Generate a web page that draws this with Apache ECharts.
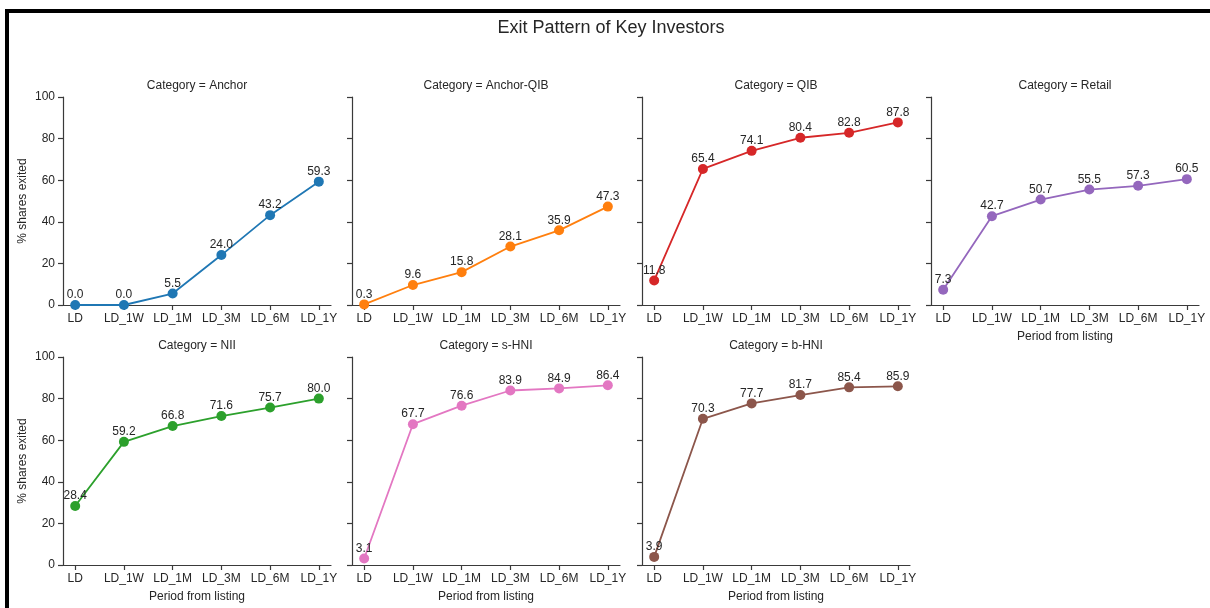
<!DOCTYPE html>
<html>
<head>
<meta charset="utf-8">
<title>Exit Pattern of Key Investors</title>
<script src="https://cdn.jsdelivr.net/npm/echarts@6/dist/echarts.min.js"></script>
<style>
  html, body { margin: 0; padding: 0; background: #ffffff; overflow: hidden; }
  #frame {
    position: absolute; left: 5px; top: 9px; width: 1400px; height: 800px;
    border: 4px solid #000; box-sizing: border-box; pointer-events: none;
  }
  #chart { position: absolute; left: 0; top: 0; width: 1210px; height: 608px; }
</style>
</head>
<body>
<div id="frame"></div>
<div id="chart"></div>
<script>
// Period labels on the x axis
const periods = ['LD', 'LD_1W', 'LD_1M', 'LD_3M', 'LD_6M', 'LD_1Y'];

// Investor categories, one panel each
const categories = ['Anchor', 'Anchor-QIB', 'QIB', 'Retail', 'NII', 's-HNI', 'b-HNI'];

// % of shares exited per period
const anchor    = [0.0, 0.0, 5.5, 24.0, 43.2, 59.3];
const anchorQib = [0.3, 9.6, 15.8, 28.1, 35.9, 47.3];
const qib       = [11.8, 65.4, 74.1, 80.4, 82.8, 87.8];
const retail    = [7.3, 42.7, 50.7, 55.5, 57.3, 60.5];
const nii       = [28.4, 59.2, 66.8, 71.6, 75.7, 80.0];
const sHni      = [3.1, 67.7, 76.6, 83.9, 84.9, 86.4];
const bHni      = [3.9, 70.3, 77.7, 81.7, 85.4, 85.9];

// y axis ticks
const yTicks = [0, 20, 40, 60, 80, 100];

const values = [anchor, anchorQib, qib, retail, nii, sHni, bHni];
const colors = ['#1f77b4', '#ff7f0e', '#d62728', '#9467bd', '#2ca02c', '#e377c2', '#8c564b'];

const FONT = "'Liberation Sans', Arial, sans-serif";
const INK = '#262626';
const AXIS = '#3a3a3a';

// panel geometry
const colLeft = [63, 352, 642, 931];
const rowTop = [97, 357];
const panelW = 268;
const panelH = 208;

const grids = [], xAxes = [], yAxes = [], series = [];
const titles = [{
  text: 'Exit Pattern of Key Investors',
  left: 611, top: 19, textAlign: 'center', padding: 0,
  textStyle: { fontFamily: FONT, fontSize: 18, fontWeight: 'normal', color: INK }
}];

const tickIdx = periods.map((_, i) => i);

categories.forEach((cat, k) => {
  const row = Math.floor(k / 4), col = k % 4;
  const left = colLeft[col], top = rowTop[row];
  grids.push({ left: left, top: top, width: panelW, height: panelH, containLabel: false });

  titles.push({
    text: 'Category = ' + cat,
    left: left + panelW / 2, top: top - 17, textAlign: 'center', padding: 0,
    textStyle: { fontFamily: FONT, fontSize: 12, fontWeight: 'normal', color: INK }
  });

  // bottom panels of each column carry the x axis title
  const showXName = row === 1 || k === 3;
  xAxes.push({
    gridIndex: k, type: 'value', min: -0.25, max: 5.25,
    name: showXName ? 'Period from listing' : '',
    nameLocation: 'middle', nameGap: 26,
    nameTextStyle: { fontFamily: FONT, fontSize: 12, color: INK },
    axisLine: { show: true, onZero: false, lineStyle: { color: AXIS, width: 1.2 } },
    axisTick: { show: true, length: 5, customValues: tickIdx, lineStyle: { color: AXIS, width: 1.2 } },
    axisLabel: {
      customValues: tickIdx, margin: 8,
      fontFamily: FONT, fontSize: 12, color: INK,
      formatter: v => periods[Math.round(v)]
    },
    splitLine: { show: false }
  });

  yAxes.push({
    gridIndex: k, type: 'value', min: yTicks[0], max: yTicks[yTicks.length - 1], interval: 20,
    name: col === 0 ? '% shares exited' : '',
    nameLocation: 'middle', nameGap: 34, nameRotate: 90,
    nameTextStyle: { fontFamily: FONT, fontSize: 12, color: INK },
    axisLine: { show: true, onZero: false, lineStyle: { color: AXIS, width: 1.2 } },
    axisTick: { show: true, length: 5, lineStyle: { color: AXIS, width: 1.2 } },
    axisLabel: { show: col === 0, margin: 8, fontFamily: FONT, fontSize: 12, color: INK },
    splitLine: { show: false }
  });

  series.push({
    type: 'line', name: cat, xAxisIndex: k, yAxisIndex: k,
    data: values[k].map((v, i) => [i, v]),
    clip: false,
    symbol: 'circle', symbolSize: 10,
    lineStyle: { color: colors[k], width: 1.8 },
    itemStyle: { color: colors[k] },
    label: {
      show: true, position: 'top', distance: -1,
      fontFamily: FONT, fontSize: 12, color: INK,
      formatter: p => p.value[1].toFixed(1)
    },
    animation: false
  });
});

const chart = echarts.init(document.getElementById('chart'), null, { renderer: 'canvas' });
chart.setOption({
  backgroundColor: 'transparent',
  animation: false,
  title: titles,
  grid: grids,
  xAxis: xAxes,
  yAxis: yAxes,
  series: series
});
</script>
</body>
</html>
